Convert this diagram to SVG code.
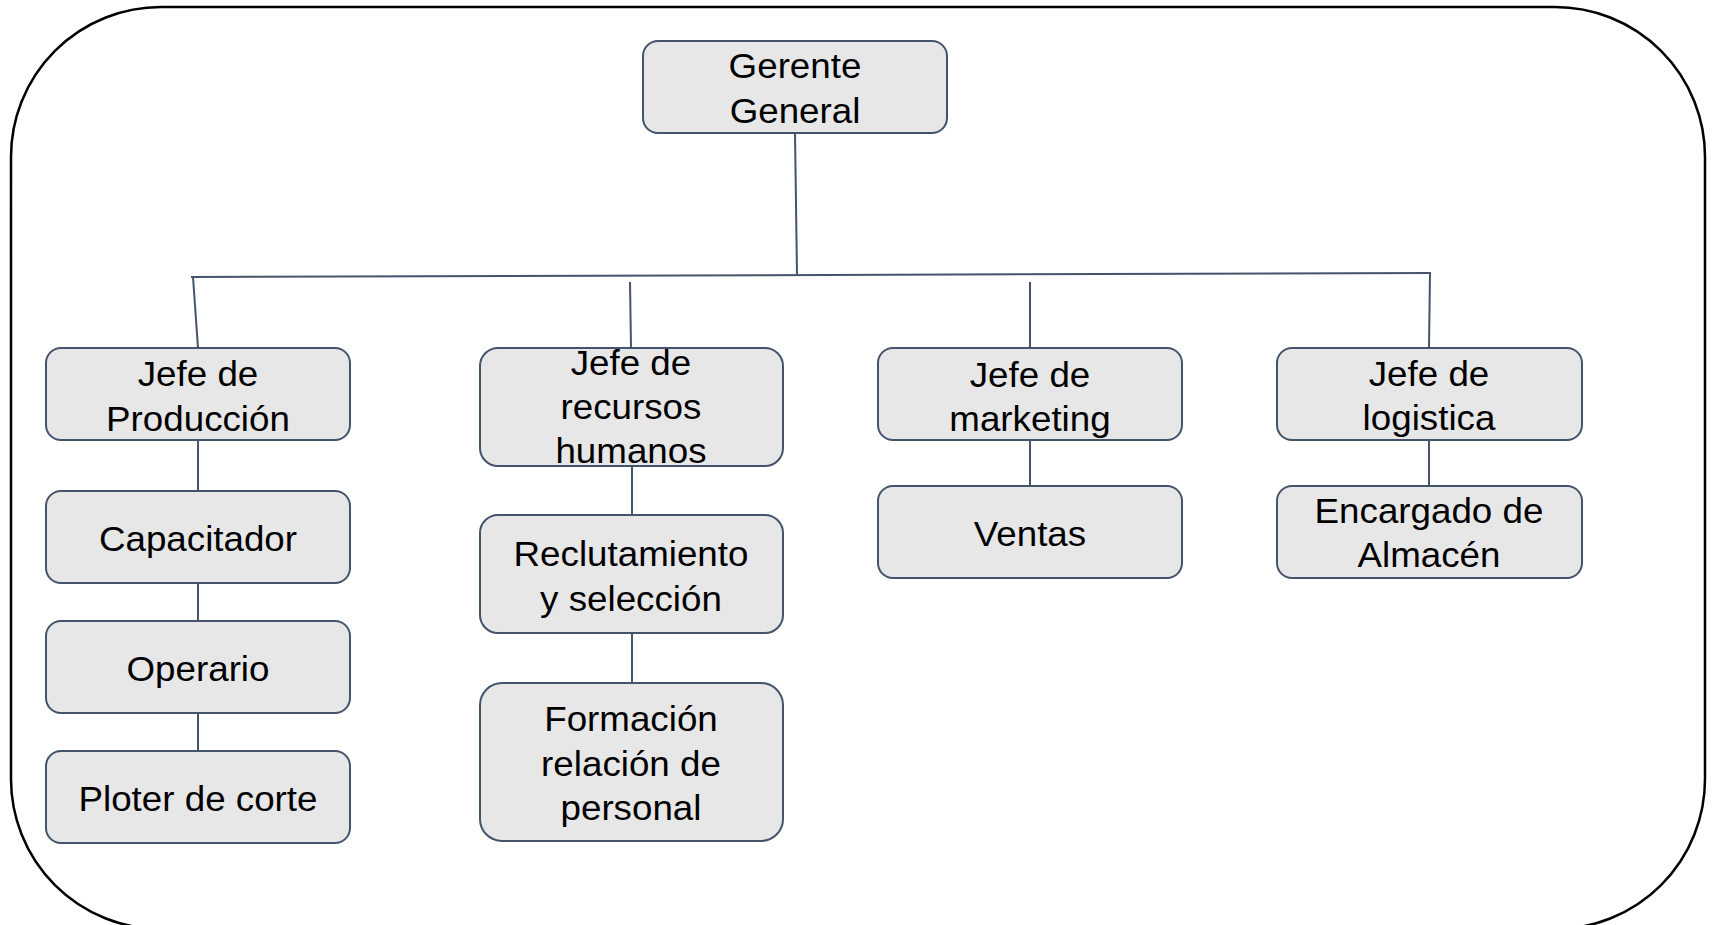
<svg xmlns="http://www.w3.org/2000/svg" width="1713" height="925" viewBox="0 0 1713 925">
<style>
.box{fill:#e7e7e7;stroke:#44546a;stroke-width:2}
.t{font-family:"Liberation Sans",Arial,sans-serif;font-size:35px;fill:#000;text-anchor:middle;transform-box:fill-box;transform-origin:center;transform:scaleX(1.05)}
.c{stroke:#44546a;stroke-width:2;fill:none}
</style>
<rect x="11" y="7" width="1694" height="922" rx="150" ry="150" fill="#fff" stroke="#000" stroke-width="2.5"/>
<g id="connectors">
<line class="c" x1="795" y1="133" x2="797" y2="274"/>
<line class="c" x1="191" y1="277" x2="1431" y2="273"/>
<line class="c" x1="193" y1="277" x2="198" y2="348"/>
<line class="c" x1="630" y1="282" x2="631" y2="348"/>
<line class="c" x1="1030" y1="282" x2="1030" y2="348"/>
<line class="c" x1="1430" y1="274" x2="1429" y2="347"/>
<line class="c" x1="198" y1="440" x2="198" y2="491"/>
<line class="c" x1="198" y1="583" x2="198" y2="621"/>
<line class="c" x1="198" y1="713" x2="198" y2="751"/>
<line class="c" x1="632" y1="466" x2="632" y2="515"/>
<line class="c" x1="632" y1="633" x2="632" y2="683"/>
<line class="c" x1="1030" y1="440" x2="1030" y2="486"/>
<line class="c" x1="1429" y1="440" x2="1429" y2="486"/>
</g>
<g id="gerente"><rect class="box" x="643" y="41" width="304" height="92" rx="15"/><text class="t" x="795" y="78">Gerente</text><text class="t" x="795" y="123">General</text></g>
<g id="produccion"><rect class="box" x="46" y="348" width="304" height="92" rx="15"/><text class="t" x="198" y="386">Jefe de</text><text class="t" x="198" y="431">Producción</text></g>
<g id="capacitador"><rect class="box" x="46" y="491" width="304" height="92" rx="15"/><text class="t" x="198" y="551">Capacitador</text></g>
<g id="operario"><rect class="box" x="46" y="621" width="304" height="92" rx="15"/><text class="t" x="198" y="681">Operario</text></g>
<g id="ploter"><rect class="box" x="46" y="751" width="304" height="92" rx="15"/><text class="t" x="198" y="811">Ploter de corte</text></g>
<g id="rrhh"><rect class="box" x="480" y="348" width="303" height="118" rx="18"/><text class="t" x="631" y="375">Jefe de</text><text class="t" x="631" y="419">recursos</text><text class="t" x="631" y="463">humanos</text></g>
<g id="reclutamiento"><rect class="box" x="480" y="515" width="303" height="118" rx="18"/><text class="t" x="631" y="566">Reclutamiento</text><text class="t" x="631" y="611">y selección</text></g>
<g id="formacion"><rect class="box" x="480" y="683" width="303" height="158" rx="22"/><text class="t" x="631" y="731">Formación</text><text class="t" x="631" y="776">relación de</text><text class="t" x="631" y="820">personal</text></g>
<g id="marketing"><rect class="box" x="878" y="348" width="304" height="92" rx="15"/><text class="t" x="1030" y="387">Jefe de</text><text class="t" x="1030" y="431">marketing</text></g>
<g id="ventas"><rect class="box" x="878" y="486" width="304" height="92" rx="15"/><text class="t" x="1030" y="546">Ventas</text></g>
<g id="logistica"><rect class="box" x="1277" y="348" width="305" height="92" rx="15"/><text class="t" x="1429" y="386">Jefe de</text><text class="t" x="1429" y="430">logistica</text></g>
<g id="almacen"><rect class="box" x="1277" y="486" width="305" height="92" rx="15"/><text class="t" x="1429" y="523">Encargado de</text><text class="t" x="1429" y="567">Almacén</text></g>
</svg>
